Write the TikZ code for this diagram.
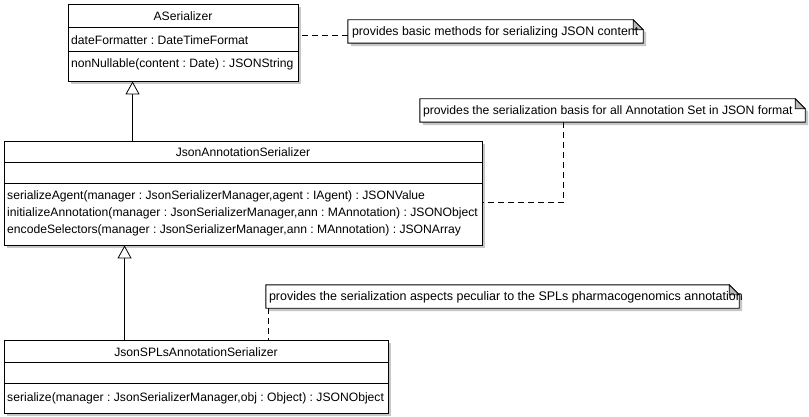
\documentclass[tikz,border=0pt]{standalone}
\usepackage{fontspec}
\setmainfont{Liberation Sans}
\usetikzlibrary{arrows.meta,calc}
\frenchspacing
\begin{document}
\begin{tikzpicture}[x=1pt,y=-1pt,
  shadowed/.style={preaction={fill=black!22, transform canvas={shift={(3pt,-3pt)}}}},
  classbox/.style={draw=black, fill=white, line width=0.9pt, shadowed, inner sep=0pt},
  notebox/.style={draw=none, inner sep=0pt},
  txt/.style={inner sep=0pt, font=\fontsize{12.15}{14}\selectfont, anchor=west},
  ctxt/.style={inner sep=0pt, font=\fontsize{12.15}{14}\selectfont},
  ntxt/.style={inner sep=0pt, font=\fontsize{12.35}{14}\selectfont, anchor=west},
  gen/.style={-{Triangle[open,length=13pt,width=14pt,fill=white]}, line width=0.8pt},
  anchorline/.style={dash pattern=on 6pt off 4pt, line width=0.8pt},
  notefill/.style={fill=white, draw=black, line width=0.9pt},
  foldfill/.style={fill=black!28, draw=black, line width=0.6pt}]
\useasboundingbox[fill=white] (0,0) rectangle (809,417);

% classes
\node[classbox, minimum width=230pt, minimum height=77pt] (as) at (183,42.5) {};
\node[classbox, minimum width=478pt, minimum height=104pt] (jas) at (243,193) {};
\node[classbox, minimum width=384pt, minimum height=73pt] (jspl) at (196,376.5) {};

% dividers
\draw[line width=0.9pt] ($(as.north west)+(0,24)$) -- ($(as.north east)+(0,24)$);
\draw[line width=0.9pt] ($(as.north west)+(0,48)$) -- ($(as.north east)+(0,48)$);
\draw[line width=0.9pt] ($(jas.north west)+(0,22)$) -- ($(jas.north east)+(0,22)$);
\draw[line width=0.9pt] ($(jas.north west)+(0,43)$) -- ($(jas.north east)+(0,43)$);
\draw[line width=0.9pt] ($(jspl.north west)+(0,23)$) -- ($(jspl.north east)+(0,23)$);
\draw[line width=0.9pt] ($(jspl.north west)+(0,44)$) -- ($(jspl.north east)+(0,44)$);

% class texts
\node[ctxt] (asname) at (183,16) {ASerializer};
\node[txt] (asattr) at (71,40) {dateFormatter : DateTimeFormat};
\node[txt] (asop) at (71,64) {nonNullable(content : Date) : JSONString};

\node[ctxt] (jasname) at (243,152) {JsonAnnotationSerializer};
\node[txt] (jasop1) at (7,196) {serializeAgent(manager : JsonSerializerManager,agent : IAgent) : JSONValue};
\node[txt] (jasop2) at (7,213) {initializeAnnotation(manager : JsonSerializerManager,ann : MAnnotation) : JSONObject};
\node[txt] (jasop3) at (7,230) {encodeSelectors(manager : JsonSerializerManager,ann : MAnnotation) : JSONArray};

\node[ctxt] (jsplname) at (196,352) {JsonSPLsAnnotationSerializer};
\node[txt] (jsplop) at (7,398.5) {serialize(manager : JsonSerializerManager,obj : Object) : JSONObject};

% notes
\node[notebox, minimum width=295pt, minimum height=23pt] (n1) at (495.5,31.5) {};
\node[notebox, minimum width=385pt, minimum height=23pt] (n2) at (612.5,110.5) {};
\node[notebox, minimum width=473pt, minimum height=23pt] (n3) at (502.5,296.5) {};

\foreach \n in {n1,n2,n3}{
  \path[notefill, shadowed] (\n.north west) -- ($(\n.north east)+(-10,0)$) -- ($(\n.north east)+(0,10)$) -- (\n.south east) -- (\n.south west) -- cycle;
  \path[foldfill] ($(\n.north east)+(-10,0)$) -- ($(\n.north east)+(-10,10)$) -- ($(\n.north east)+(0,10)$) -- cycle;
}
\node[ntxt] (n1t) at ($(n1.west)+(4,0.5)$) {provides basic methods for serializing JSON content};
\node[ntxt, font=\fontsize{12.2}{14}\selectfont] (n2t) at ($(n2.west)+(3,0.5)$) {provides the serialization basis for all Annotation Set in JSON format};
\node[ntxt, font=\fontsize{12.5}{14}\selectfont] (n3t) at ($(n3.west)+(3,0.5)$) {provides the serialization aspects peculiar to the SPLs pharmacogenomics annotation};

% note anchors
\draw[anchorline] ($(n1.south west)+(0,-8)$) -- (as.east |- {$(n1.south west)+(0,-8)$});
\coordinate (n2a) at ($(n2.south west)+(144,0)$);
\coordinate (jasa) at ($(jas.north east)+(0,62)$);
\draw[anchorline] (n2a) |- (jasa);
\coordinate (n3a) at ($(n3.south west)+(3,0)$);
\draw[anchorline] (n3a) -- (n3a |- jspl.north);

% generalizations
\coordinate (g1) at ($(as.south west)+(65,0)$);
\draw[gen] (g1 |- jas.north) -- (g1);
\coordinate (g2) at ($(jas.south west)+(121,0)$);
\draw[gen] (g2 |- jspl.north) -- (g2);
\end{tikzpicture}
\end{document}
